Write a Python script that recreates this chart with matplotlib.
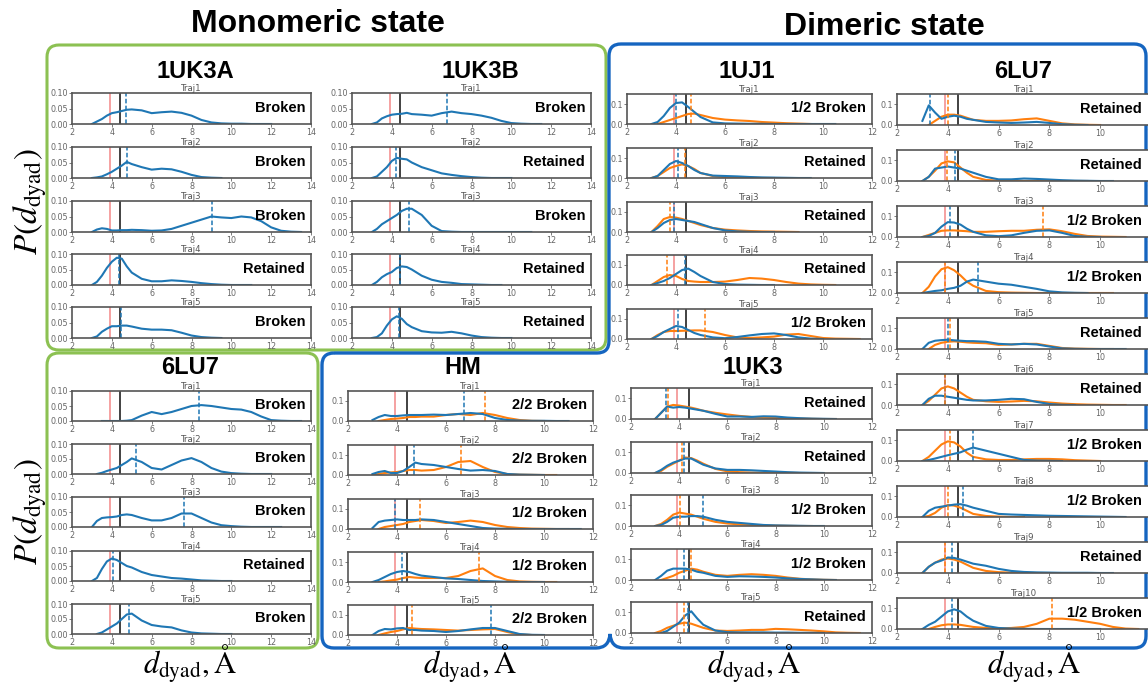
import numpy as np
import matplotlib
matplotlib.use('Agg')
import matplotlib.pyplot as plt
from matplotlib.path import Path
from matplotlib.patches import PathPatch, FancyBboxPatch

plt.rcParams['mathtext.fontset'] = 'stix'

nan = np.nan

# ── 数据 ─────────────────────────────────────────────────────
# common d_dyad grid (Å); each curve list stops where the curve ends
D_GRID = [3.0, 3.25, 3.5, 3.75, 4.0, 4.25, 4.5, 4.75, 5.0, 5.5, 6.0, 6.5, 7.0,
          7.5, 8.0, 8.5, 9.0, 9.5, 10.0, 10.5, 11.0, 11.5, 12.0, 12.5, 13.0, 13.5]
RED_LINE = 3.9
BLACK_LINE = 4.4

# monomeric 1UK3A
UK3A_BLUE = [
    [0, .008, .016, .027, .035, .038, .042, .046, .047, .044, .035, .038, .04, .036, .027, .013, .005, .002, .001, .001, 0, 0, 0],
    [0, .002, .005, .012, .02, .03, .04, .052, .045, .035, .027, .03, .028, .02, .01, .003, .001, 0],
    [0, .008, .012, .01, .005, .005, .006, .006, .007, .006, .004, .005, .01, .02, .03, .04, .05, .047, .045, .05, .047, .035, .015, .004, .001, 0],
    [0, .01, .03, .055, .075, .088, .085, .06, .04, .02, .012, .012, .015, .013, .01, .006, .003, .001, 0, 0, 0],
    [0, .005, .02, .03, .038, .038, .04, .04, .037, .03, .027, .027, .025, .017, .008, .003, .001, 0],
]
UK3A_MEAN = [4.7, 4.75, 9.05, 4.35, 4.45]
UK3A_LABEL = ['Broken', 'Broken', 'Broken', 'Retained', 'Broken']

# monomeric 1UK3B
UK3B_BLUE = [
    [0, .005, .018, .025, .03, .032, .033, .036, .032, .03, .027, .035, .04, .035, .032, .027, .02, .01, .003, .001, 0, 0],
    [0, .005, .02, .035, .055, .065, .062, .06, .05, .035, .025, .015, .01, .006, .003, .001, 0, 0, 0],
    [0, .01, .025, .035, .045, .055, .068, .075, .075, .055, .02, .003, .001, 0, 0, 0, 0, 0, 0, 0, 0],
    [0, .01, .025, .035, .042, .055, .06, .058, .05, .03, .017, .01, .007, .003, .002, .001, 0, 0],
    [0, .003, .015, .04, .06, .07, .062, .045, .035, .022, .018, .017, .02, .015, .008, .003, .001, 0, 0],
]
UK3B_MEAN = [6.75, 4.2, 4.85, 4.4, 4.35]
UK3B_LABEL = ['Broken', 'Retained', 'Broken', 'Retained', 'Retained']

# monomeric 6LU7
LU7M_BLUE = [
    [nan, nan, 0, 0, 0, 0, 0, .001, .003, .018, .03, .023, .03, .04, .05, .053, .05, .045, .04, .038, .03, .015, .003, .001, 0, 0],
    [nan, 0, .004, .01, .015, .02, .03, .04, .052, .04, .02, .015, .03, .045, .053, .04, .02, .008, .003, .001, 0, 0, 0],
    [0, .02, .03, .032, .033, .035, .04, .042, .04, .03, .022, .022, .03, .045, .045, .03, .015, .006, .003, .001, 0, 0, 0, 0],
    [0, .01, .04, .065, .075, .07, .06, .05, .045, .03, .02, .015, .01, .008, .005, .002, .001, 0, 0],
    [nan, 0, .005, .015, .025, .035, .05, .065, .068, .045, .03, .025, .022, .012, .005, .002, .001, 0, 0],
]
LU7M_MEAN = [8.4, 5.2, 7.6, 4.05, 4.85]
LU7M_LABEL = ['Broken', 'Broken', 'Broken', 'Retained', 'Broken']

# dimeric HM
HM_BLUE = [
    [.005, .02, .03, .025, .025, .028, .03, .03, .03, .032, .03, .035, .04, .035, .015, .005, .002, .001, .001, 0, 0],
    [.005, .015, .02, .01, .01, .02, .04, .062, .055, .05, .04, .03, .022, .025, .02, .005, .002, .001, 0],
    [.005, .035, .042, .045, .048, .045, .045, .045, .048, .045, .035, .025, .015, .005, .002, .001, 0, 0, 0, 0, 0, 0],
    [0, .01, .025, .04, .05, .055, .05, .04, .032, .025, .018, .015, .01, .005, .003, .001, 0, 0, 0],
    [0, .02, .03, .028, .033, .035, .025, .025, .022, .02, .015, .02, .028, .035, .035, .02, .005, .001, 0],
]
HM_ORANGE = [
    [nan, 0, .005, .01, .012, .015, .02, .02, .022, .022, .03, .035, .03, .04, .03, .015, .005, .001, 0],
    [0, .005, .01, .013, .015, .02, .025, .025, .022, .025, .04, .065, .07, .04, .015, .005, .002, .001, 0, 0],
    [nan, 0, .01, .015, .02, .025, .035, .04, .045, .04, .03, .035, .042, .035, .02, .01, .005, .002, .001, 0, 0],
    [nan, 0, .003, .008, .012, .02, .025, .022, .02, .02, .02, .03, .055, .068, .03, .01, .003, .001, 0, 0],
    [nan, 0, .008, .015, .02, .028, .035, .032, .03, .028, .025, .022, .025, .028, .03, .015, .003, 0],
]
HM_MEAN_B = [6.75, 4.7, 3.9, 4.2, 7.85]
HM_MEAN_O = [7.6, 6.6, 4.95, 7.35, 4.6]
HM_LABEL = ['2/2 Broken', '2/2 Broken', '1/2 Broken', '1/2 Broken', '2/2 Broken']

# dimeric 1UJ1
UJ1_BLUE = [
    [0, .01, .04, .08, .105, .108, .085, .06, .035, .008, .003, .002, .001, .001, 0, 0, 0, 0, 0, 0],
    [0, .01, .04, .07, .085, .075, .06, .04, .025, .012, .01, .008, .005, .003, .002, .001, 0, 0],
    [0, .02, .045, .06, .065, .06, .055, .05, .04, .02, .008, .003, .001, 0, 0],
    [0, .01, .02, .035, .055, .075, .082, .065, .045, .015, .005, .002, .001, 0, 0],
    [0, .015, .035, .05, .065, .06, .045, .03, .02, .008, .004, .01, .018, .025, .028, .02, .008, .002, 0],
]
UJ1_ORANGE = [
    [nan, 0, .01, .02, .03, .04, .05, .052, .045, .03, .022, .018, .015, .01, .007, .004, .002, 0],
    [0, .01, .03, .05, .06, .068, .06, .045, .025, .01, .004, .002, .001, 0, 0],
    [0, .03, .065, .075, .072, .065, .055, .045, .035, .02, .012, .008, .005, .003, .002, .001, 0],
    [0, .02, .04, .05, .045, .03, .02, .017, .015, .015, .017, .025, .035, .032, .025, .015, .007, .003, .001, 0],
    [0, .02, .035, .04, .04, .041, .042, .043, .043, .035, .02, .008, .005, .008, .012, .022, .025, .015, .005, .002, .001, 0],
]
UJ1_MEAN_B = [4.0, 4.1, 3.9, 4.35, 4.1]
UJ1_MEAN_O = [4.6, 4.35, 3.75, 3.65, 5.2]
UJ1_LABEL = ['1/2 Broken', 'Retained', 'Retained', 'Retained', '1/2 Broken']

# dimeric 1UK3
UK3D_BLUE = [
    [0, .03, .06, .055, .058, .055, .05, .045, .04, .025, .012, .012, .01, .013, .012, .007, .004, .002, .001, 0],
    [0, .015, .035, .05, .06, .07, .07, .055, .04, .022, .015, .015, .013, .01, .007, .004, .002, .001, 0],
    [0, .005, .02, .04, .045, .045, .048, .048, .045, .03, .02, .015, .01, .005, .003, .002, .001, 0, 0],
    [0, .02, .045, .055, .055, .055, .05, .04, .035, .02, .015, .018, .017, .015, .012, .008, .005, .003, .001, 0],
    [nan, 0, .01, .03, .05, .085, .105, .07, .04, .012, .004, .003, .003, .003, .002, .002, .001, .001, 0],
]
UK3D_ORANGE = [
    [0, .03, .06, .068, .065, .06, .055, .048, .04, .03, .022, .015, .01, .007, .005, .003, .002, .001, 0, 0],
    [0, .01, .03, .045, .06, .075, .072, .06, .045, .02, .008, .004, .002, .001, .001, .001, 0],
    [0, .01, .03, .055, .065, .06, .055, .045, .035, .02, .012, .008, .005, .003, .002, .001, 0, 0],
    [nan, 0, .01, .02, .035, .045, .055, .05, .04, .025, .02, .025, .028, .025, .02, .012, .006, .003, .001, 0],
    [0, .01, .025, .035, .045, .05, .045, .035, .025, .012, .01, .012, .015, .015, .02, .018, .015, .012, .008, .003, .001, 0],
]
UK3D_MEAN_B = [3.45, 4.2, 5.0, 4.2, 4.35]
UK3D_MEAN_O = [3.55, 4.1, 4.05, 4.5, 4.2]
UK3D_LABEL = ['Retained', 'Retained', '1/2 Broken', '1/2 Broken', 'Retained']

# dimeric 6LU7
LU7D_BLUE = [
    [.02, .095, .06, .03, .04, .045, .04, .03, .025, .015, .012, .01, .012, .015, .01, .004, .001, 0],
    [0, .02, .06, .065, .07, .065, .06, .05, .04, .02, .008, .008, .012, .01, .007, .004, .002, .001, 0, 0],
    [0, .005, .02, .05, .072, .07, .06, .04, .025, .008, .004, .008, .02, .03, .032, .02, .005, .001, 0],
    [0, .005, .01, .013, .02, .025, .035, .055, .065, .055, .045, .04, .03, .02, .008, .003, .001, 0],
    [0, .03, .04, .043, .045, .042, .04, .038, .038, .035, .025, .022, .025, .022, .012, .003, .001, 0, 0, 0, 0],
    [0, .03, .045, .045, .04, .035, .03, .025, .022, .022, .025, .03, .028, .015, .005, .001, 0],
    [0, .005, .012, .02, .028, .035, .042, .055, .065, .05, .035, .02, .005, .002, .001, 0],
    [0, .03, .045, .05, .055, .06, .062, .055, .045, .03, .015, .012, .01, .008, .006, .005, .004, .003, .002, .001, 0],
    [0, .03, .05, .06, .075, .073, .065, .055, .045, .035, .02, .01, .005, .003, .002, .001, .001, .001, 0, 0],
    [0, .02, .035, .06, .085, .095, .085, .06, .04, .015, .005, .002, .001, 0, 0, 0, 0, 0, 0],
]
LU7D_ORANGE = [
    [nan, 0, .02, .04, .05, .05, .045, .035, .025, .02, .02, .022, .028, .032, .02, .008, .003, .001, 0],
    [0, .02, .05, .085, .095, .09, .065, .04, .02, .005, .002, .001, 0, 0, 0, 0, 0, 0],
    [0, .01, .02, .03, .032, .032, .03, .028, .025, .025, .028, .03, .03, .035, .037, .028, .015, .005, .002, .001, 0],
    [0, .03, .08, .115, .125, .11, .085, .055, .035, .01, .004, .002, .001, 0, 0, 0, 0, 0, 0, 0],
    [nan, 0, .02, .03, .035, .037, .035, .032, .03, .028, .02, .022, .025, .025, .015, .005, .002, .001, 0, 0],
    [0, .02, .05, .08, .09, .08, .06, .04, .025, .018, .015, .017, .02, .018, .012, .007, .004, .002, .001, 0, 0],
    [0, .02, .05, .08, .095, .09, .07, .04, .02, .008, .005, .005, .008, .01, .01, .008, .004, .002, 0],
    [0, .005, .02, .045, .058, .055, .045, .03, .015, .005, .002, 0, 0],
    [0, .03, .05, .065, .07, .065, .055, .04, .025, .01, .004, .002, .001, 0, 0],
    [nan, 0, .01, .018, .022, .022, .02, .015, .01, .005, .003, .005, .01, .025, .05, .05, .045, .035, .025, .01, .002, 0],
]
LU7D_MEAN_B = [3.3, 4.3, 4.1, 5.2, 4.0, 3.9, 5.0, 4.6, 4.15, 4.15]
LU7D_MEAN_O = [4.0, 3.95, 7.75, 3.9, 4.1, 3.9, 4.1, 4.0, 3.9, 8.1]
LU7D_LABEL = ['Retained', 'Retained', '1/2 Broken', '1/2 Broken', 'Retained',
              'Retained', '1/2 Broken', '1/2 Broken', 'Retained', '1/2 Broken']

# ── 画布 ─────────────────────────────────────────────────────
W, H = 1148, 686
BLUE, ORANGE = '#1f77b4', '#ff7f0e'
GREEN_BOX, BLUE_BOX = '#8cc152', '#1565c0'
BOLD = 'Liberation Sans'

fig = plt.figure(figsize=(W / 100, H / 100), dpi=100)

bg = fig.add_axes([0, 0, 1, 1], zorder=-1)
bg.set_xlim(0, W)
bg.set_ylim(H, 0)
bg.axis('off')


def add_ax(left, right, top, height):
    return fig.add_axes([left / W, 1 - (top + height) / H,
                         (right - left) / W, height / H])


def panel(ax, i, label, blue, mb, orange=None, mo=None, mono=True, lx=0.975):
    ax.axvline(RED_LINE, color='#f49a9a', lw=1.3)
    ax.axvline(BLACK_LINE, color='#333333', lw=1.3)
    if orange is not None:
        ax.plot(D_GRID[:len(orange)], orange, color=ORANGE, lw=1.5)
    ax.plot(D_GRID[:len(blue)], blue, color=BLUE, lw=1.5)
    ax.axvline(mb, color=BLUE, lw=1.1, ls=(0, (3, 1.5)))
    if mo is not None:
        ax.axvline(mo, color=ORANGE, lw=1.1, ls=(0, (3, 1.5)))
    if mono:
        ax.set_xlim(2, 14)
        ax.set_ylim(0, 0.1)
        ax.set_xticks(range(2, 15, 2))
        ax.set_yticks([0, 0.05, 0.1])
        ax.set_yticklabels(['0.00', '0.05', '0.10'])
    else:
        ax.set_xlim(2, 12)
        ax.set_ylim(0, 0.15)
        ax.set_xticks(range(2, 13, 2))
        ax.set_yticks([0, 0.1])
        ax.set_yticklabels(['0.0', '0.1'])
    ax.tick_params(labelsize=5.8, labelcolor='#666666', color='#666666',
                   length=2, width=0.6, pad=1)
    for s in ax.spines.values():
        s.set_color('#555555')
        s.set_linewidth(1.2)
    ax.set_title(f'Traj{i + 1}', fontsize=6.2, color='#555555', pad=1.5)
    ax.text(lx, 0.52, label, transform=ax.transAxes, ha='right',
            va='center', fontsize=10.5, fontweight='bold', family=BOLD)


# monomeric groups
for i in range(5):
    ax = add_ax(72, 311, [93, 147, 201, 254, 307][i], 31)
    panel(ax, i, UK3A_LABEL[i], UK3A_BLUE[i], UK3A_MEAN[i])
    ax = add_ax(352, 591, [93, 147, 201, 254, 307][i], 31)
    panel(ax, i, UK3B_LABEL[i], UK3B_BLUE[i], UK3B_MEAN[i])
    ax = add_ax(72, 311, [391, 444, 497, 551, 604][i], 30)
    panel(ax, i, LU7M_LABEL[i], LU7M_BLUE[i], LU7M_MEAN[i])

# dimeric groups
for i in range(5):
    ax = add_ax(348, 593, [391, 445, 499, 552, 605][i], 30)
    panel(ax, i, HM_LABEL[i], HM_BLUE[i], HM_MEAN_B[i],
          HM_ORANGE[i], HM_MEAN_O[i], mono=False)
    ax = add_ax(627, 872, [94, 148, 202, 255, 309][i], 30)
    panel(ax, i, UJ1_LABEL[i], UJ1_BLUE[i], UJ1_MEAN_B[i],
          UJ1_ORANGE[i], UJ1_MEAN_O[i], mono=False)
    ax = add_ax(631, 872, [388, 442, 495, 549, 602][i], 31)
    panel(ax, i, UK3D_LABEL[i], UK3D_BLUE[i], UK3D_MEAN_B[i],
          UK3D_ORANGE[i], UK3D_MEAN_O[i], mono=False)

for i in range(10):
    ax = add_ax(897, 1151, 94 + 56 * i, 31)
    panel(ax, i, LU7D_LABEL[i], LU7D_BLUE[i], LU7D_MEAN_B[i],
          LU7D_ORANGE[i], LU7D_MEAN_O[i], mono=False, lx=0.965)

# ── 边框 ─────────────────────────────────────────────────────
for (x0, y0, x1, y1) in [(47, 45, 606, 350), (47, 353, 318, 648)]:
    bg.add_patch(FancyBboxPatch((x0, y0), x1 - x0, y1 - y0,
                                boxstyle='round,pad=0,rounding_size=12',
                                fc='none', ec=GREEN_BOX, lw=2.2))

r = 12
verts = [
    (322 + r, 353), (609 - r, 353), (609, 353), (609, 353 - r),
    (609, 44 + r), (609, 44), (609 + r, 44),
    (1146 - r, 44), (1146, 44), (1146, 44 + r),
    (1146, 648 - r), (1146, 648), (1146 - r, 648),
    (624, 648), (611, 648), (610, 634), (609, 648), (596, 648),
    (322 + r, 648), (322, 648), (322, 648 - r),
    (322, 353 + r), (322, 353), (322 + r, 353),
]
codes = [Path.MOVETO, Path.LINETO, Path.CURVE3, Path.CURVE3,
         Path.LINETO, Path.CURVE3, Path.CURVE3,
         Path.LINETO, Path.CURVE3, Path.CURVE3,
         Path.LINETO, Path.CURVE3, Path.CURVE3,
         Path.LINETO, Path.CURVE3, Path.CURVE3, Path.CURVE3, Path.CURVE3,
         Path.LINETO, Path.CURVE3, Path.CURVE3,
         Path.LINETO, Path.CURVE3, Path.CURVE3]
bg.add_patch(PathPatch(Path(verts, codes), fc='none', ec=BLUE_BOX, lw=2.4))

# ── 文字 ─────────────────────────────────────────────────────
bg.text(318, 24, 'Monomeric state', ha='center', va='center',
        fontsize=23, fontweight='bold', family=BOLD)
bg.text(884, 27, 'Dimeric state', ha='center', va='center',
        fontsize=23, fontweight='bold', family=BOLD)

for name, x, y in [('1UK3A', 195, 72), ('1UK3B', 480, 72), ('1UJ1', 747, 72),
                   ('6LU7', 1023, 72), ('6LU7', 190, 368), ('HM', 463, 368),
                   ('1UK3', 753, 367)]:
    bg.text(x, y, name, ha='center', va='center', fontsize=17,
            fontweight='bold', family=BOLD)

for y in [202, 512]:
    bg.text(30, y, r'$P(d_{\mathrm{dyad}})$', ha='center', va='center',
            rotation=90, fontsize=24)
for x in [190, 470, 754, 1034]:
    bg.text(x, 664, r'$d_{\mathrm{dyad}},\mathrm{Å}$', ha='center',
            va='center', fontsize=22)

plt.savefig('out.png', dpi=100)
